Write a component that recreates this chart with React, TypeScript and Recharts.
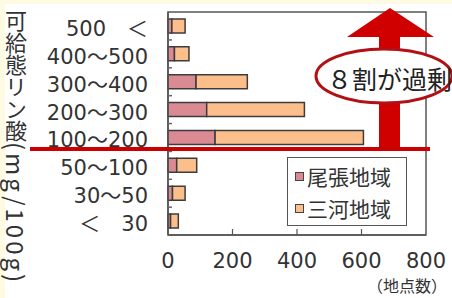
import { BarChart, Bar, XAxis, YAxis, ReferenceArea } from "recharts";

const classes = ["500　＜", "400～500", "300～400", "200～300", "100～200", "50～100", "30～50", "＜　30"];
const owari = [12, 20, 87, 120, 146, 27, 14, 8];
const mikawa = [41, 45, 159, 303, 460, 62, 39, 24];
const xTicks = [0, 200, 400, 600, 800];
const seriesNames = ["尾張地域", "三河地域"];

const data = classes.map((c, i) => ({ name: c, owari: owari[i], mikawa: mikawa[i] }));

const FONT = "'DejaVu Sans', 'Noto Sans CJK JP', sans-serif";
const JP = "'Noto Sans CJK JP', sans-serif";
const PINK = "#d98a93";
const ORANGE = "#fcbf8c";
const EDGE = "#3c3c3c";
const colors = [PINK, ORANGE];

function XTick(props: any) {
  const { x, y, payload } = props;
  return (
    <g>
      {payload.value > 0 && payload.value < 800 && (
        <line x1={x} x2={x} y1={y} y2={y - 6} stroke="#555" strokeWidth={1.2} />
      )}
      <text x={x} y={y + 33} textAnchor="middle" fontSize={21} fontFamily={FONT} fill="#333">
        {payload.value}
      </text>
    </g>
  );
}

function YTick(props: any) {
  const { y, payload } = props;
  return (
    <g>
      {payload.index < classes.length - 1 && (
        <line x1={168} x2={172} y1={y + 14} y2={y + 14} stroke="#666" strokeWidth={1.5} />
      )}
      <text x={148} y={y + 10} textAnchor="end" fontSize={21} fontFamily={FONT} fill="#333">
        {payload.value}
      </text>
    </g>
  );
}

export default function App() {
  return (
    <div style={{ position: "fixed", left: 0, top: 0, width: 452, height: 298, background: "#fffbe2", overflow: "hidden" }}>
      <div style={{ position: "absolute", left: 5, top: 4, width: 447, height: 294, background: "#fff" }} />
      <div style={{ position: "absolute", left: 0, top: 0 }}>
        <BarChart
          width={452}
          height={298}
          data={data}
          layout="vertical"
          margin={{ top: 12, right: 26, bottom: 33, left: 0 }}
          barCategoryGap="25%"
        >
          <XAxis
            type="number"
            domain={[0, 800]}
            ticks={xTicks}
            tick={<XTick />}
            tickLine={false}
            tickSize={0}
            tickMargin={0}
            height={30}
            axisLine={{ stroke: "#555", strokeWidth: 1.5 }}
            interval={0}
          />
          <YAxis
            type="category"
            dataKey="name"
            width={168}
            tick={<YTick />}
            tickLine={false}
            axisLine={{ stroke: "#555", strokeWidth: 1.5 }}
            interval={0}
          />
          <ReferenceArea x1={0} x2={800} fill="none" stroke="#555" strokeWidth={1.5} />
          <Bar dataKey="owari" stackId="a" fill={PINK} stroke={EDGE} strokeWidth={1.5} isAnimationActive={false} />
          <Bar dataKey="mikawa" stackId="a" fill={ORANGE} stroke={EDGE} strokeWidth={1.5} isAnimationActive={false} />
        </BarChart>
      </div>
      <svg width={452} height={298} style={{ position: "absolute", left: 0, top: 0, pointerEvents: "none", overflow: "visible" }}>
        <polygon points="390,8 347,37 379,37 379,150 400,150 400,37 434,37" fill="#d10000" />
        <line x1={30} x2={430} y1={149} y2={149} stroke="#cc0000" strokeWidth={4} />
        <ellipse cx={384} cy={76} rx={68} ry={27} fill="#fff" stroke="#b31015" strokeWidth={3} />
        <text x={327} y={89} fontSize={25} fontFamily={JP} fill="#222">８割が過剰</text>
        <text x={447} y={292} textAnchor="end" fontSize={16} fontFamily={JP} fill="#333">（地点数）</text>
      </svg>
      <div
        style={{
          position: "absolute",
          left: 287,
          top: 157,
          width: 120,
          height: 69,
          border: "1.5px solid #555",
          background: "#fff",
          boxSizing: "border-box",
          padding: "2px 0 0 7px",
        }}
      >
        {seriesNames.map((n, i) => (
          <div key={n} style={{ display: "flex", alignItems: "center", height: 32 }}>
            <span
              style={{
                width: 7,
                height: 7,
                background: colors[i],
                border: "1px solid #444",
                marginRight: 3,
              }}
            />
            <span style={{ fontFamily: JP, fontSize: 21, color: "#333", lineHeight: 1 }}>{n}</span>
          </div>
        ))}
      </div>
      <div
        style={{
          position: "absolute",
          left: 4,
          top: 10,
          writingMode: "vertical-rl",
          fontFamily: JP,
          fontSize: 22,
          lineHeight: 1,
          color: "#333",
        }}
      >
        可給態リン酸
        <span style={{ fontSize: 24, letterSpacing: 3 }}>(mg/100g)</span>
      </div>
    </div>
  );
}
